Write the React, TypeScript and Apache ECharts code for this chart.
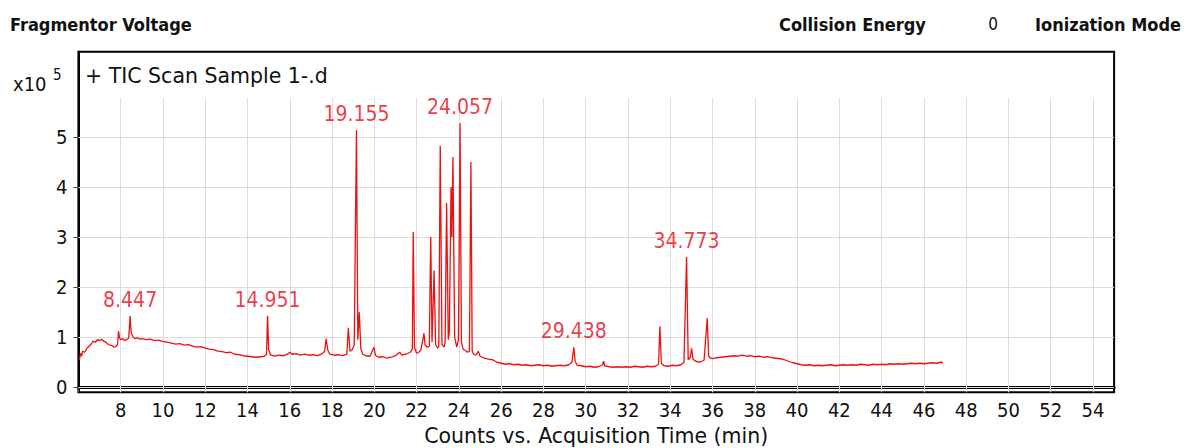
import React, { useEffect, useRef } from "react";
import * as echarts from "echarts";

// TIC trace: [acquisition time (min), counts (x10^5)]
const tic: [number, number][] = [
  [6.05, 0.55], [6.1, 0.68], [6.15, 0.62], [6.2, 0.72], [6.3, 0.7], [6.4, 0.78], [6.5, 0.82],
  [6.6, 0.86], [6.7, 0.92], [6.8, 0.9], [6.9, 0.95], [7.0, 0.93], [7.1, 0.96], [7.2, 0.92],
  [7.3, 0.9], [7.4, 0.86], [7.5, 0.84], [7.6, 0.83], [7.7, 0.8], [7.8, 0.82], [7.85, 0.85],
  [7.9, 1.12], [7.95, 0.98], [8.0, 0.95], [8.1, 0.97], [8.2, 0.93], [8.3, 0.96], [8.38, 0.98],
  [8.447, 1.42], [8.5, 1.08], [8.6, 1.0], [8.7, 0.97], [8.8, 0.99], [8.9, 0.96], [9.0, 0.97],
  [9.2, 0.95], [9.4, 0.96], [9.6, 0.93], [9.8, 0.94], [10.0, 0.91], [10.2, 0.9], [10.4, 0.88],
  [10.6, 0.86], [10.8, 0.87], [11.0, 0.84], [11.2, 0.85], [11.4, 0.82], [11.6, 0.8], [11.8, 0.81],
  [12.0, 0.78], [12.2, 0.76], [12.4, 0.75], [12.6, 0.72], [12.8, 0.71], [13.0, 0.69], [13.2, 0.7],
  [13.4, 0.66], [13.6, 0.65], [13.8, 0.63], [14.0, 0.62], [14.2, 0.61], [14.4, 0.6], [14.6, 0.61],
  [14.8, 0.62], [14.9, 0.66], [14.951, 1.43], [15.0, 0.75], [15.1, 0.64], [15.3, 0.62], [15.5, 0.64],
  [15.7, 0.63], [15.9, 0.66], [16.0, 0.7], [16.1, 0.66], [16.3, 0.67], [16.5, 0.64], [16.7, 0.66],
  [16.9, 0.64], [17.1, 0.65], [17.3, 0.63], [17.5, 0.66], [17.65, 0.72], [17.72, 0.97], [17.8, 0.74],
  [17.9, 0.66], [18.1, 0.64], [18.3, 0.65], [18.5, 0.63], [18.7, 0.66], [18.77, 1.19], [18.85, 0.72],
  [18.95, 0.75], [19.05, 0.85], [19.155, 5.13], [19.22, 0.95], [19.29, 1.5], [19.36, 0.78],
  [19.45, 0.66], [19.6, 0.63], [19.8, 0.62], [19.98, 0.8], [20.05, 0.64], [20.2, 0.6], [20.4, 0.61],
  [20.6, 0.58], [20.8, 0.6], [21.0, 0.63], [21.2, 0.7], [21.3, 0.64], [21.5, 0.66], [21.7, 0.7],
  [21.8, 0.76], [21.84, 3.1], [21.9, 0.8], [22.0, 0.68], [22.1, 0.7], [22.2, 0.74], [22.3, 0.95],
  [22.35, 1.08], [22.4, 0.85], [22.5, 0.8], [22.6, 0.82], [22.67, 3.0], [22.73, 0.9], [22.83, 2.33],
  [22.9, 0.85], [23.0, 0.78], [23.05, 0.82], [23.12, 4.82], [23.2, 0.86], [23.3, 0.8], [23.35, 0.9],
  [23.42, 3.68], [23.5, 0.95], [23.55, 1.1], [23.63, 4.0], [23.67, 3.0], [23.72, 4.6], [23.8, 1.0],
  [23.9, 0.8], [23.98, 0.95], [24.057, 5.27], [24.12, 0.9], [24.2, 0.76], [24.3, 0.74], [24.4, 0.7],
  [24.5, 0.72], [24.57, 4.5], [24.63, 0.72], [24.7, 0.66], [24.8, 0.64], [24.92, 0.72], [25.0, 0.62],
  [25.2, 0.58], [25.4, 0.56], [25.6, 0.55], [25.8, 0.5], [26.0, 0.48], [26.2, 0.46], [26.4, 0.47],
  [26.6, 0.45], [26.8, 0.46], [27.0, 0.44], [27.2, 0.45], [27.4, 0.43], [27.6, 0.44], [27.8, 0.45],
  [28.0, 0.43], [28.2, 0.44], [28.4, 0.42], [28.6, 0.43], [28.8, 0.44], [29.0, 0.43], [29.2, 0.45],
  [29.35, 0.5], [29.438, 0.8], [29.5, 0.52], [29.6, 0.44], [29.8, 0.43], [30.0, 0.41], [30.2, 0.42],
  [30.4, 0.4], [30.6, 0.41], [30.8, 0.45], [30.85, 0.52], [30.9, 0.43], [31.1, 0.41], [31.3, 0.4],
  [31.5, 0.41], [31.7, 0.4], [31.9, 0.41], [32.1, 0.4], [32.3, 0.42], [32.5, 0.41], [32.7, 0.4],
  [32.9, 0.42], [33.1, 0.41], [33.3, 0.42], [33.45, 0.46], [33.51, 1.22], [33.58, 0.48], [33.7, 0.43],
  [33.9, 0.42], [34.1, 0.44], [34.3, 0.43], [34.5, 0.45], [34.65, 0.5], [34.773, 2.6], [34.85, 0.55],
  [34.95, 0.6], [35.01, 0.78], [35.08, 0.56], [35.2, 0.52], [35.4, 0.5], [35.6, 0.54], [35.75, 1.38],
  [35.82, 0.62], [35.9, 0.58], [36.0, 0.57], [36.2, 0.59], [36.4, 0.6], [36.6, 0.61], [36.8, 0.62],
  [37.0, 0.63], [37.2, 0.62], [37.4, 0.64], [37.6, 0.62], [37.8, 0.63], [38.0, 0.61], [38.2, 0.62],
  [38.4, 0.6], [38.6, 0.61], [38.8, 0.59], [39.0, 0.58], [39.2, 0.57], [39.4, 0.55], [39.6, 0.52],
  [39.8, 0.49], [40.0, 0.47], [40.2, 0.45], [40.4, 0.44], [40.6, 0.45], [40.8, 0.43], [41.0, 0.44],
  [41.2, 0.43], [41.4, 0.44], [41.6, 0.45], [41.8, 0.43], [42.0, 0.44], [42.2, 0.45], [42.4, 0.44],
  [42.6, 0.45], [42.8, 0.44], [43.0, 0.46], [43.2, 0.45], [43.4, 0.44], [43.6, 0.46], [43.8, 0.45],
  [44.0, 0.46], [44.2, 0.45], [44.4, 0.47], [44.6, 0.46], [44.8, 0.47], [45.0, 0.46], [45.2, 0.47],
  [45.4, 0.48], [45.6, 0.47], [45.8, 0.48], [46.0, 0.47], [46.2, 0.48], [46.4, 0.49], [46.6, 0.48],
  [46.8, 0.5], [46.9, 0.49],
];

// labelled peaks: [time, apex counts]
const peakLabels: [number, number][] = [
  [8.447, 1.42], [14.951, 1.43], [19.155, 5.13], [24.057, 5.27], [29.438, 0.8], [34.773, 2.6],
];

const xLabelValues = [8, 10, 12, 14, 16, 18, 20, 22, 24, 26, 28, 30, 32, 34, 36, 38, 40, 42, 44, 46, 48, 50, 52, 54];
const xTickValues = [6, ...xLabelValues];
const yTickValues = [0, 1, 2, 3, 4, 5];
const xMin = 6;
const xMax = 55;
const yMin = -0.1;
const yMax = 6.7;
const vGridTop = 5.77;

export default function App() {
  const ref = useRef<HTMLDivElement>(null);
  useEffect(() => {
    document.body.style.margin = "0";
    const chart = echarts.init(ref.current!, null, { renderer: "svg" });
    const font = '"DejaVu Sans Condensed", "DejaVu Sans", sans-serif';
    const wide = '"DejaVu Sans", sans-serif';
    const red = "#f01010";
    const labelRed = "#e60a18";
    const vLines = xLabelValues.map((x) => [{ coord: [x, yMin] }, { coord: [x, vGridTop] }]);
    const hLines = yTickValues.map((y) => [{ coord: [xMin, y] }, { coord: [xMax, y] }]);
    chart.setOption({
      animation: false,
      grid: {
        left: 78.4, right: 72.9, top: 51.7, bottom: 55.7,
        outerBoundsMode: "none", containLabel: false,
        show: true, borderColor: "#000", borderWidth: 2, backgroundColor: "#fff",
      },
      xAxis: {
        type: "value", min: xMin, max: xMax,
        axisLine: { show: true, lineStyle: { color: "#000", width: 3 } },
        axisTick: { show: true, customValues: xTickValues, length: 5, lineStyle: { color: "#444" } },
        axisLabel: { customValues: xLabelValues, fontFamily: font, fontSize: 20, color: "#111", margin: 8 },
        splitLine: { show: false },
        name: "Counts vs. Acquisition Time (min)",
        nameLocation: "middle", nameGap: 32,
        nameTextStyle: { fontFamily: wide, fontSize: 20.5, color: "#111" },
      },
      yAxis: {
        type: "value", min: yMin, max: yMax,
        axisLine: { show: true, lineStyle: { color: "#000", width: 2 } },
        axisTick: { show: true, customValues: yTickValues, length: 5, lineStyle: { color: "#444" } },
        axisLabel: { customValues: yTickValues, fontFamily: font, fontSize: 20, color: "#111", margin: 11 },
        splitLine: { show: false },
      },
      series: [
        {
          type: "line", data: tic, showSymbol: false, symbol: "none",
          lineStyle: { color: red, width: 1.3 }, itemStyle: { color: red }, z: 3,
          markLine: {
            silent: true, symbol: ["none", "none"], label: { show: false }, z: 1,
            lineStyle: { color: "#dcdcdc", width: 1, type: "solid" },
            emphasis: { disabled: true },
            data: [...vLines, ...hLines],
          },
        },
        {
          type: "scatter", data: peakLabels, symbolSize: 1, z: 4,
          itemStyle: { color: "rgba(0,0,0,0)" },
          label: {
            show: true, position: "top", distance: 5,
            formatter: (p: any) => p.value[0].toFixed(3),
            color: labelRed, fontFamily: font, fontSize: 21,
          },
        },
      ],
      graphic: [
        { type: "text", x: 10, y: 24, style: { text: "Fragmentor Voltage", fontFamily: font, fontSize: 18, fontWeight: "bold", fill: "#111", verticalAlign: "middle" } },
        { type: "text", x: 779, y: 24, style: { text: "Collision Energy", fontFamily: font, fontSize: 18, fontWeight: "bold", fill: "#111", verticalAlign: "middle" } },
        { type: "text", x: 993, y: 24, style: { text: "0", fontFamily: font, fontSize: 17, fill: "#111", align: "center", verticalAlign: "middle" } },
        { type: "text", x: 1035, y: 24, style: { text: "Ionization Mode", fontFamily: font, fontSize: 18, fontWeight: "bold", fill: "#111", verticalAlign: "middle" } },
        { type: "text", x: 85, y: 76, z: 10, style: { text: "+ TIC Scan Sample 1-.d", fontFamily: wide, fontSize: 20.5, fill: "#111", verticalAlign: "middle" } },
        { type: "text", x: 13, y: 84, style: { text: "x10", fontFamily: font, fontSize: 20, fill: "#111", verticalAlign: "middle" } },
        { type: "text", x: 53, y: 75, style: { text: "5", fontFamily: font, fontSize: 15, fill: "#111", verticalAlign: "middle" } },
      ],
    });
    return () => chart.dispose();
  }, []);
  return <div ref={ref} style={{ width: 1187, height: 448 }} />;
}
